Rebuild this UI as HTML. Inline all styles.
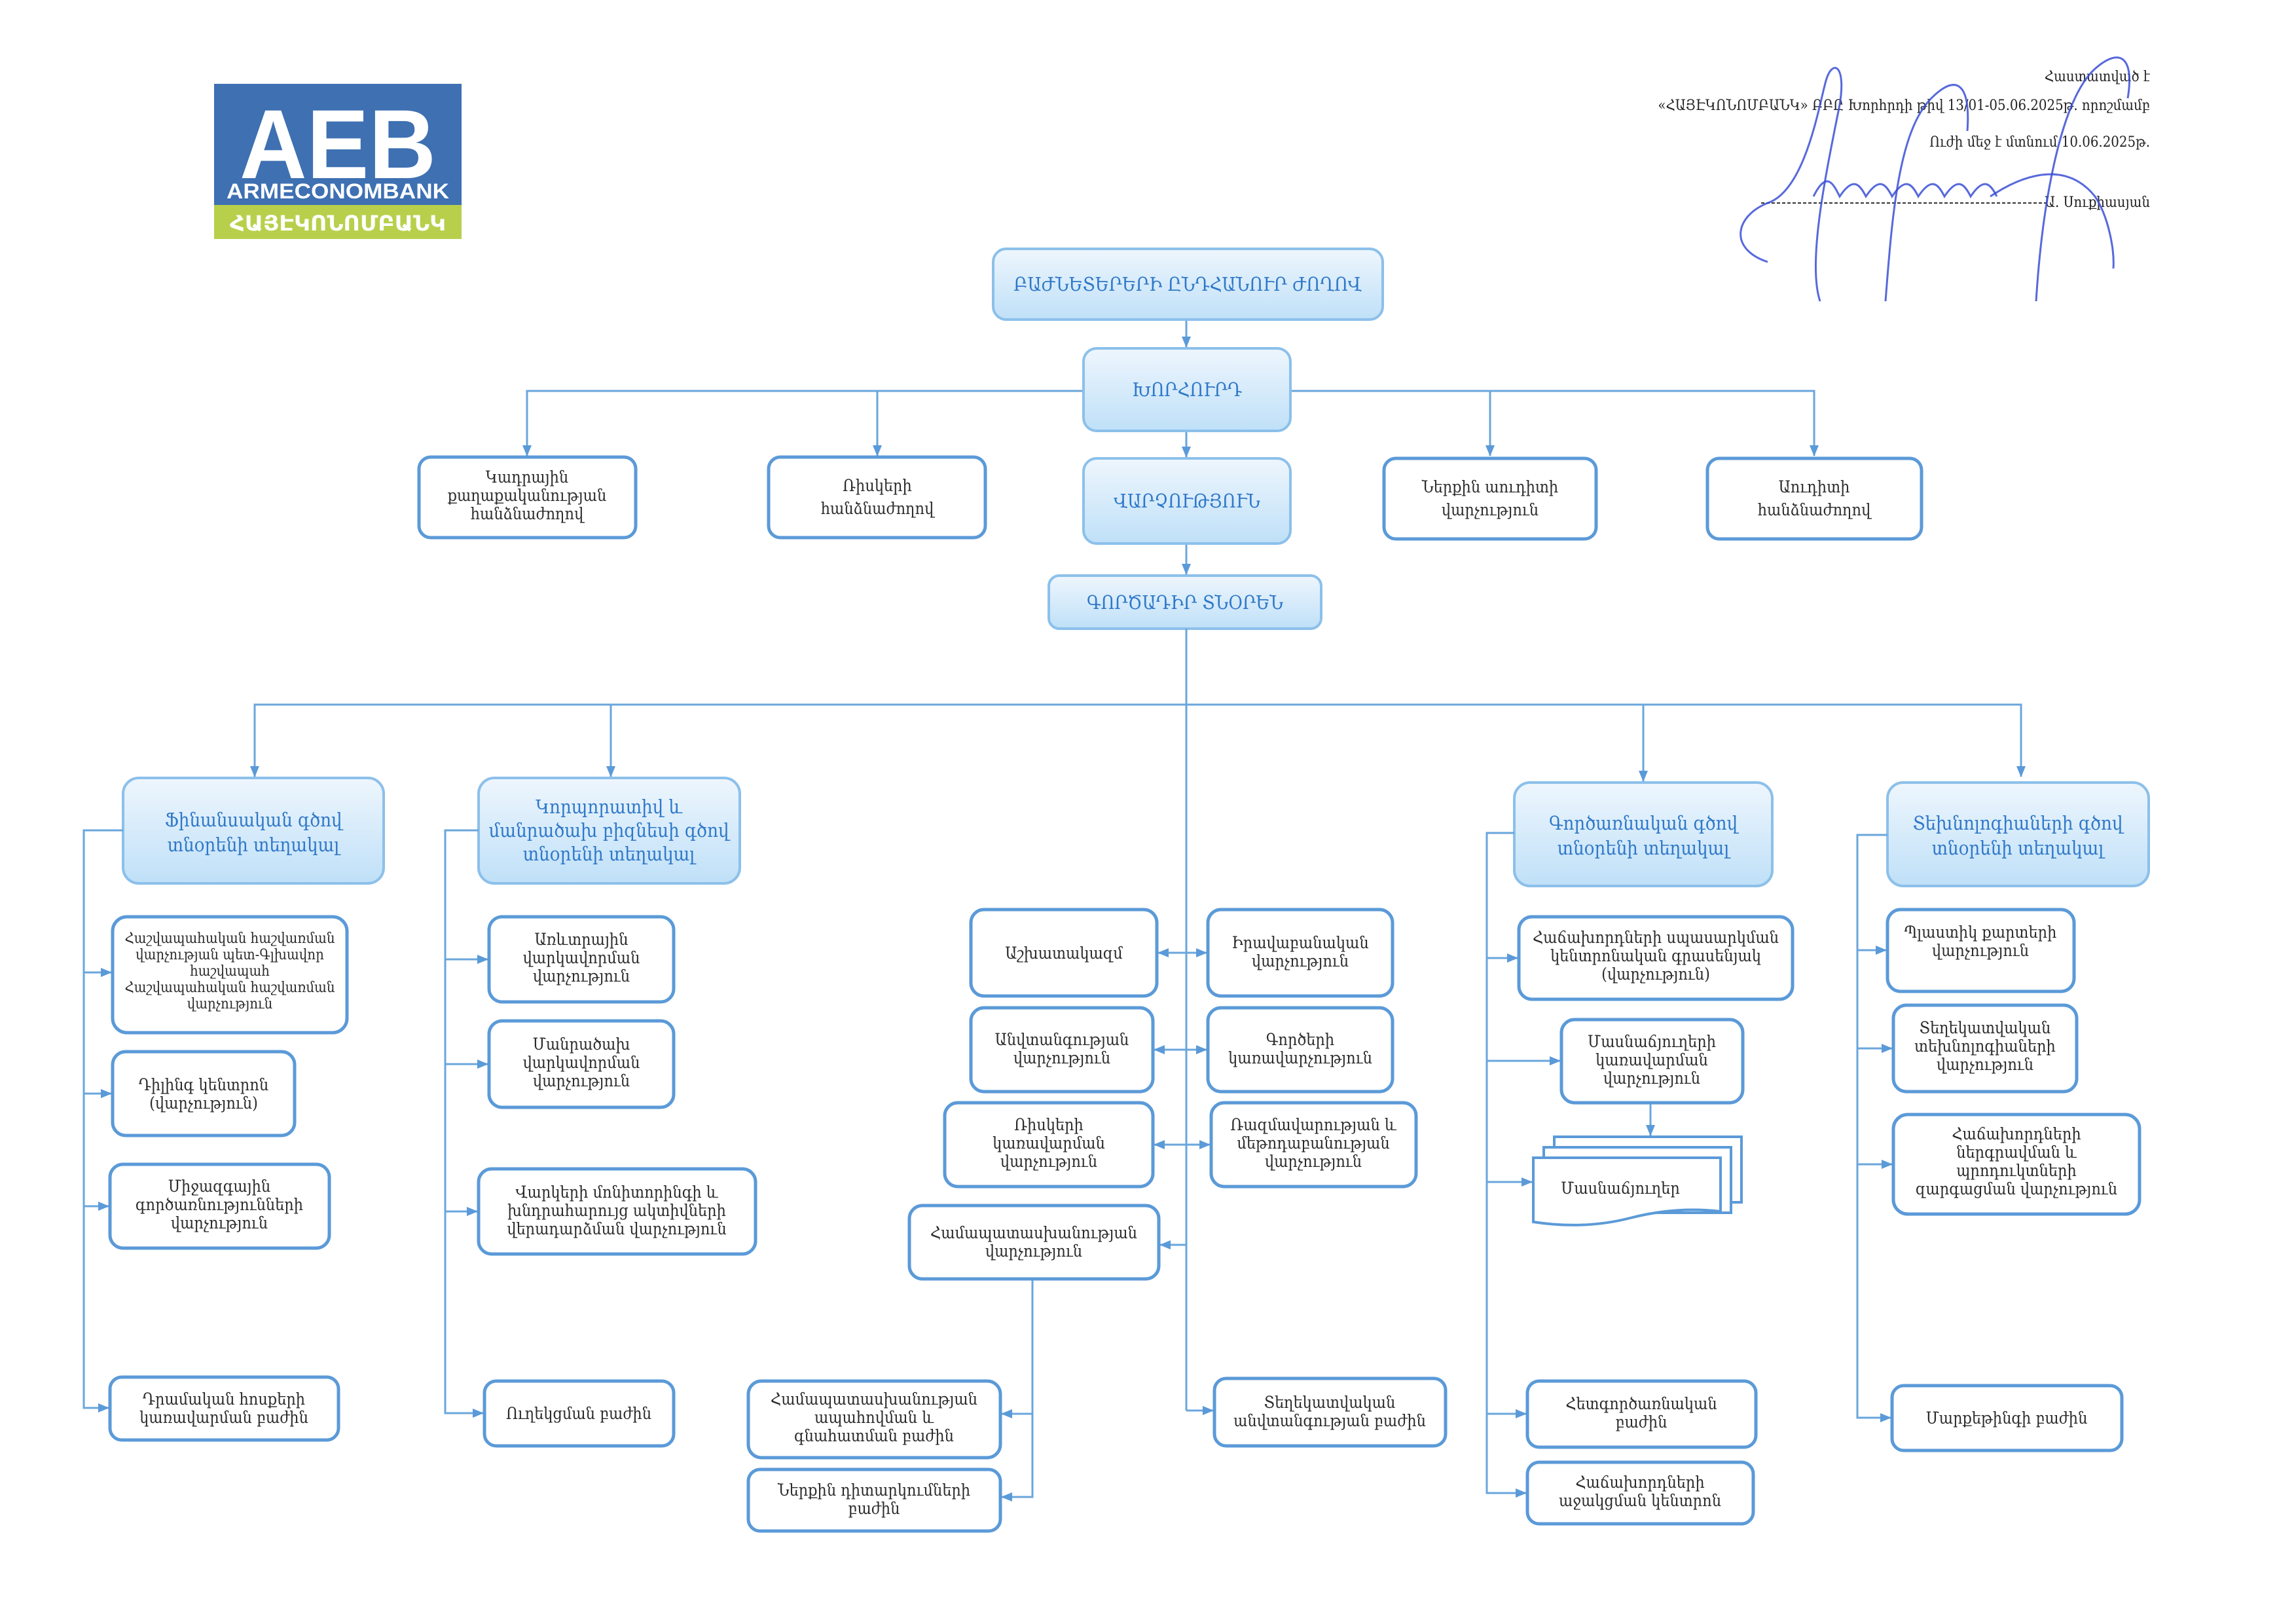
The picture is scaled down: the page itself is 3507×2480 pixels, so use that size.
<!DOCTYPE html>
<html><head><meta charset="utf-8"><style>
html,body{margin:0;padding:0;background:#fff}
svg{display:block}
text{font-family:"DejaVu Serif Condensed","DejaVu Serif","Liberation Serif",serif}
.c{fill:#2b2b2b;font-size:25px;text-anchor:middle}
.c2{fill:#2b2b2b;font-size:22px;text-anchor:middle}
.h{fill:#2f78c8;font-size:29px;text-anchor:middle}
.b{fill:#fff;stroke:#5b9ad8;stroke-width:5}
.g{fill:url(#gr);stroke:#8cc0ea;stroke-width:4}
.l{stroke:#6aa6dc;stroke-width:3;fill:none}
.a{fill:#5b9ad8}
.s{stroke:#3a4fd6;stroke-width:3;fill:none;opacity:.85}
</style></head><body>
<svg width="3507" height="2480" viewBox="0 0 3507 2480" xmlns="http://www.w3.org/2000/svg">
<defs>
<linearGradient id="gr" x1="0" y1="0" x2="0" y2="1"><stop offset="0" stop-color="#eef6fd"/><stop offset="1" stop-color="#bfe0f8"/></linearGradient>
<marker id="am" markerWidth="18" markerHeight="18" refX="16" refY="9" orient="auto" markerUnits="userSpaceOnUse"><path d="M0,2 L17,9 L0,16 Z" fill="#5b9ad8"/></marker>
<marker id="as" markerWidth="18" markerHeight="18" refX="16" refY="9" orient="auto-start-reverse" markerUnits="userSpaceOnUse"><path d="M0,2 L17,9 L0,16 Z" fill="#5b9ad8"/></marker>
</defs>

<!-- logo -->
<rect x="327" y="128" width="378" height="185" fill="#3e70b2"/>
<rect x="327" y="313" width="378" height="52" fill="#b8cf4c"/>
<text x="516" y="272" fill="#fff" font-size="150" font-weight="bold" text-anchor="middle" style="font-family:'Liberation Sans',sans-serif" textLength="300" lengthAdjust="spacingAndGlyphs">AEB</text>
<text x="516" y="303" fill="#fff" font-size="32" font-weight="bold" text-anchor="middle" style="font-family:'Liberation Sans',sans-serif" textLength="340" lengthAdjust="spacingAndGlyphs">ARMECONOMBANK</text>
<text x="516" y="352" fill="#fff" font-size="32" font-weight="bold" text-anchor="middle" style="font-family:'DejaVu Sans',sans-serif" textLength="330" lengthAdjust="spacingAndGlyphs">ՀԱՅԷԿՈՆՈՄԲԱՆԿ</text>

<!-- approval -->
<g font-size="22" fill="#222" text-anchor="end">
<text x="3284" y="124">Հաստատված է</text>
<text x="3284" y="168">«ՀԱՅԷԿՈՆՈՄԲԱՆԿ» ԲԲԸ Խորհրդի թիվ 13/01-05.06.2025թ. որոշմամբ</text>
<text x="3284" y="224">Ուժի մեջ է մտնում 10.06.2025թ.</text>
<text x="3284" y="316">Ա. Սուքիասյան</text>
</g>
<line x1="2690" y1="310" x2="3128" y2="310" stroke="#333" stroke-width="2" stroke-dasharray="5,3"/>
<path class="s" d="M2700,400 C2640,380 2650,330 2700,310 C2760,290 2780,150 2790,120 C2800,90 2820,100 2810,160 C2790,260 2760,400 2780,460"/>
<path class="s" d="M2770,300 C2790,260 2800,280 2810,300 C2830,270 2840,280 2850,300 C2870,270 2880,280 2890,300 C2910,270 2920,280 2930,300 C2950,270 2960,280 2970,300 C2990,270 3000,280 3010,300 C3030,270 3040,280 3050,300"/>
<path class="s" d="M2880,460 C2890,330 2900,200 2950,150 C2990,110 3010,130 3005,200"/>
<path class="s" d="M3040,300 C3100,260 3160,250 3200,300 C3220,330 3230,380 3228,410"/>
<path class="s" d="M3110,460 C3120,300 3150,150 3200,105 C3240,70 3260,90 3250,150"/>

<!-- top connectors -->
<line class="l" x1="1812" y1="488" x2="1812" y2="530" marker-end="url(#am)"/>
<line class="l" x1="1812" y1="658" x2="1812" y2="698" marker-end="url(#am)"/>
<line class="l" x1="1812" y1="830" x2="1812" y2="877" marker-end="url(#am)"/>
<polyline class="l" points="1655,597 805,597 805,696" marker-end="url(#am)"/>
<line class="l" x1="1340" y1="597" x2="1340" y2="696" marker-end="url(#am)"/>
<polyline class="l" points="1971,597 2771,597 2771,696" marker-end="url(#am)"/>
<line class="l" x1="2276" y1="597" x2="2276" y2="696" marker-end="url(#am)"/>

<!-- top boxes -->
<rect class="g" x="1517" y="380" width="595" height="108" rx="20"/>
<text class="h" x="1814" y="444">ԲԱԺՆԵՏԵՐԵՐԻ ԸՆԴՀԱՆՈՒՐ ԺՈՂՈՎ</text>
<rect class="g" x="1655" y="532" width="316" height="126" rx="20"/>
<text class="h" x="1813" y="605">ԽՈՐՀՈՒՐԴ</text>
<rect class="g" x="1655" y="700" width="316" height="130" rx="20"/>
<text class="h" x="1813" y="775">ՎԱՐՉՈՒԹՅՈՒՆ</text>
<rect class="g" x="1602" y="879" width="416" height="81" rx="16"/>
<text class="h" x="1810" y="930">ԳՈՐԾԱԴԻՐ ՏՆՕՐԵՆ</text>

<rect class="b" x="640" y="698" width="331" height="123" rx="18"/>
<text class="c" x="805" y="737">Կադրային</text><text class="c" x="805" y="765">քաղաքականության</text><text class="c" x="805" y="793">հանձնաժողով</text>
<rect class="b" x="1174" y="698" width="331" height="123" rx="18"/>
<text class="c" x="1340" y="750">Ռիսկերի</text><text class="c" x="1340" y="785">հանձնաժողով</text>
<rect class="b" x="2114" y="700" width="324" height="123" rx="18"/>
<text class="c" x="2276" y="752">Ներքին աուդիտի</text><text class="c" x="2276" y="787">վարչություն</text>
<rect class="b" x="2608" y="700" width="327" height="123" rx="18"/>
<text class="c" x="2771" y="752">Աուդիտի</text><text class="c" x="2771" y="787">հանձնաժողով</text>

<!-- director level -->
<line class="l" x1="1812" y1="960" x2="1812" y2="2154"/>
<polyline class="l" points="389,1186 389,1076 3087,1076 3087,1186" marker-end="url(#am)"/>
<line class="l" x1="389" y1="1076" x2="389" y2="1186" marker-end="url(#am)"/>
<line class="l" x1="933" y1="1076" x2="933" y2="1186" marker-end="url(#am)"/>
<line class="l" x1="2510" y1="1076" x2="2510" y2="1193" marker-end="url(#am)"/>

<!-- deputies -->
<rect class="g" x="188" y="1188" width="398" height="161" rx="24"/>
<text class="h" x="387" y="1262">Ֆինանսական գծով</text><text class="h" x="387" y="1300">տնօրենի տեղակալ</text>
<rect class="g" x="731" y="1188" width="399" height="161" rx="24"/>
<text class="h" x="930" y="1242">Կորպորատիվ և</text><text class="h" x="930" y="1278">մանրածախ բիզնեսի գծով</text><text class="h" x="930" y="1314">տնօրենի տեղակալ</text>
<rect class="g" x="2313" y="1195" width="394" height="158" rx="24"/>
<text class="h" x="2510" y="1267">Գործառնական գծով</text><text class="h" x="2510" y="1305">տնօրենի տեղակալ</text>
<rect class="g" x="2883" y="1195" width="399" height="158" rx="24"/>
<text class="h" x="3082" y="1267">Տեխնոլոգիաների գծով</text><text class="h" x="3082" y="1305">տնօրենի տեղակալ</text>

<!-- col1 -->
<polyline class="l" points="188,1268 128,1268 128,2150 166,2150" marker-end="url(#am)"/>
<line class="l" x1="128" y1="1485" x2="170" y2="1485" marker-end="url(#am)"/>
<line class="l" x1="128" y1="1670" x2="170" y2="1670" marker-end="url(#am)"/>
<line class="l" x1="128" y1="1842" x2="166" y2="1842" marker-end="url(#am)"/>
<rect class="b" x="172" y="1400" width="358" height="177" rx="22"/>
<text class="c2" x="351" y="1440">Հաշվապահական հաշվառման</text><text class="c2" x="351" y="1465">վարչության պետ-Գլխավոր</text><text class="c2" x="351" y="1490">հաշվապահ</text><text class="c2" x="351" y="1515">Հաշվապահական հաշվառման</text><text class="c2" x="351" y="1540">վարչություն</text>
<rect class="b" x="172" y="1606" width="278" height="128" rx="20"/>
<text class="c" x="311" y="1665">Դիլինգ կենտրոն</text><text class="c" x="311" y="1693">(վարչություն)</text>
<rect class="b" x="168" y="1778" width="335" height="128" rx="20"/>
<text class="c" x="335" y="1820">Միջազգային</text><text class="c" x="335" y="1848">գործառնությունների</text><text class="c" x="335" y="1876">վարչություն</text>
<rect class="b" x="168" y="2103" width="349" height="96" rx="18"/>
<text class="c" x="342" y="2145">Դրամական հոսքերի</text><text class="c" x="342" y="2173">կառավարման բաժին</text>

<!-- col2 -->
<polyline class="l" points="731,1268 680,1268 680,2158 738,2158" marker-end="url(#am)"/>
<line class="l" x1="680" y1="1465" x2="745" y2="1465" marker-end="url(#am)"/>
<line class="l" x1="680" y1="1625" x2="745" y2="1625" marker-end="url(#am)"/>
<line class="l" x1="680" y1="1850" x2="729" y2="1850" marker-end="url(#am)"/>
<rect class="b" x="747" y="1400" width="282" height="130" rx="20"/>
<text class="c" x="888" y="1443">Առևտրային</text><text class="c" x="888" y="1471">վարկավորման</text><text class="c" x="888" y="1499">վարչություն</text>
<rect class="b" x="747" y="1559" width="282" height="132" rx="20"/>
<text class="c" x="888" y="1603">Մանրածախ</text><text class="c" x="888" y="1631">վարկավորման</text><text class="c" x="888" y="1659">վարչություն</text>
<rect class="b" x="731" y="1785" width="423" height="130" rx="20"/>
<text class="c" x="942" y="1829">Վարկերի մոնիտորինգի և</text><text class="c" x="942" y="1857">խնդրահարույց ակտիվների</text><text class="c" x="942" y="1885">վերադարձման վարչություն</text>
<rect class="b" x="740" y="2109" width="289" height="99" rx="18"/>
<text class="c" x="884" y="2167">Ուղեկցման բաժին</text>

<!-- center -->
<line class="l" x1="1769" y1="1455" x2="1843" y2="1455" marker-start="url(#as)" marker-end="url(#am)"/>
<line class="l" x1="1763" y1="1603" x2="1843" y2="1603" marker-start="url(#as)" marker-end="url(#am)"/>
<line class="l" x1="1763" y1="1748" x2="1848" y2="1748" marker-start="url(#as)" marker-end="url(#am)"/>
<line class="l" x1="1812" y1="1901" x2="1772" y2="1901" marker-end="url(#am)"/>
<line class="l" x1="1812" y1="2154" x2="1853" y2="2154" marker-end="url(#am)"/>
<polyline class="l" points="1577,1953 1577,2286 1530,2286" marker-end="url(#am)"/>
<line class="l" x1="1577" y1="2159" x2="1530" y2="2159" marker-end="url(#am)"/>
<rect class="b" x="1483" y="1389" width="284" height="132" rx="20"/>
<text class="c" x="1625" y="1464">Աշխատակազմ</text>
<rect class="b" x="1845" y="1389" width="282" height="132" rx="20"/>
<text class="c" x="1986" y="1448">Իրավաբանական</text><text class="c" x="1986" y="1476">վարչություն</text>
<rect class="b" x="1483" y="1539" width="278" height="128" rx="20"/>
<text class="c" x="1622" y="1596">Անվտանգության</text><text class="c" x="1622" y="1624">վարչություն</text>
<rect class="b" x="1845" y="1539" width="282" height="128" rx="20"/>
<text class="c" x="1986" y="1596">Գործերի</text><text class="c" x="1986" y="1624">կառավարչություն</text>
<rect class="b" x="1443" y="1684" width="318" height="128" rx="20"/>
<text class="c" x="1602" y="1726">Ռիսկերի</text><text class="c" x="1602" y="1754">կառավարման</text><text class="c" x="1602" y="1782">վարչություն</text>
<rect class="b" x="1850" y="1684" width="313" height="128" rx="20"/>
<text class="c" x="2006" y="1726">Ռազմավարության և</text><text class="c" x="2006" y="1754">մեթոդաբանության</text><text class="c" x="2006" y="1782">վարչություն</text>
<rect class="b" x="1389" y="1841" width="381" height="112" rx="20"/>
<text class="c" x="1579" y="1891">Համապատասխանության</text><text class="c" x="1579" y="1919">վարչություն</text>
<rect class="b" x="1143" y="2109" width="385" height="117" rx="20"/>
<text class="c" x="1335" y="2145">Համապատասխանության</text><text class="c" x="1335" y="2173">ապահովման և</text><text class="c" x="1335" y="2201">գնահատման բաժին</text>
<rect class="b" x="1143" y="2244" width="385" height="94" rx="18"/>
<text class="c" x="1335" y="2284">Ներքին դիտարկումների</text><text class="c" x="1335" y="2312">բաժին</text>
<rect class="b" x="1855" y="2105" width="353" height="103" rx="18"/>
<text class="c" x="2031" y="2150">Տեղեկատվական</text><text class="c" x="2031" y="2178">անվտանգության բաժին</text>

<!-- col4 -->
<polyline class="l" points="2313,1272 2271,1272 2271,2280 2331,2280" marker-end="url(#am)"/>
<line class="l" x1="2271" y1="1463" x2="2318" y2="1463" marker-end="url(#am)"/>
<line class="l" x1="2271" y1="1620" x2="2383" y2="1620" marker-end="url(#am)"/>
<line class="l" x1="2271" y1="1805" x2="2340" y2="1805" marker-end="url(#am)"/>
<line class="l" x1="2271" y1="2159" x2="2331" y2="2159" marker-end="url(#am)"/>
<line class="l" x1="2521" y1="1684" x2="2521" y2="1734" marker-end="url(#am)"/>
<rect class="b" x="2320" y="1400" width="418" height="126" rx="20"/>
<text class="c" x="2529" y="1440">Հաճախորդների սպասարկման</text><text class="c" x="2529" y="1468">կենտրոնական գրասենյակ</text><text class="c" x="2529" y="1496">(վարչություն)</text>
<rect class="b" x="2385" y="1557" width="277" height="127" rx="20"/>
<text class="c" x="2523" y="1599">Մասնաճյուղերի</text><text class="c" x="2523" y="1627">կառավարման</text><text class="c" x="2523" y="1655">վարչություն</text>
<rect x="2374" y="1736" width="286" height="100" fill="#fff" stroke="#5b9ad8" stroke-width="4"/>
<rect x="2358" y="1752" width="286" height="100" fill="#fff" stroke="#5b9ad8" stroke-width="4"/>
<path d="M2342,1768 H2628 V1850 Q2560,1842 2490,1860 Q2420,1878 2342,1866 Z" fill="#fff" stroke="#5b9ad8" stroke-width="4"/>
<text class="c" x="2475" y="1823">Մասնաճյուղեր</text>
<rect class="b" x="2333" y="2109" width="349" height="101" rx="18"/>
<text class="c" x="2507" y="2152">Հետգործառնական</text><text class="c" x="2507" y="2180">բաժին</text>
<rect class="b" x="2333" y="2233" width="345" height="94" rx="18"/>
<text class="c" x="2505" y="2272">Հաճախորդների</text><text class="c" x="2505" y="2300">աջակցման կենտրոն</text>

<!-- col5 -->
<polyline class="l" points="2883,1275 2837,1275 2837,2165 2888,2165" marker-end="url(#am)"/>
<line class="l" x1="2837" y1="1451" x2="2881" y2="1451" marker-end="url(#am)"/>
<line class="l" x1="2837" y1="1601" x2="2890" y2="1601" marker-end="url(#am)"/>
<line class="l" x1="2837" y1="1778" x2="2890" y2="1778" marker-end="url(#am)"/>
<rect class="b" x="2883" y="1389" width="285" height="125" rx="20"/>
<text class="c" x="3025" y="1432">Պլաստիկ քարտերի</text><text class="c" x="3025" y="1460">վարչություն</text>
<rect class="b" x="2892" y="1535" width="280" height="132" rx="20"/>
<text class="c" x="3032" y="1578">Տեղեկատվական</text><text class="c" x="3032" y="1606">տեխնոլոգիաների</text><text class="c" x="3032" y="1634">վարչություն</text>
<rect class="b" x="2892" y="1702" width="376" height="152" rx="22"/>
<text class="c" x="3080" y="1740">Հաճախորդների</text><text class="c" x="3080" y="1768">ներգրավման և</text><text class="c" x="3080" y="1796">պրոդուկտների</text><text class="c" x="3080" y="1824">զարգացման վարչություն</text>
<rect class="b" x="2890" y="2116" width="351" height="99" rx="18"/>
<text class="c" x="3065" y="2174">Մարքեթինգի բաժին</text>
</svg>
</body></html>
